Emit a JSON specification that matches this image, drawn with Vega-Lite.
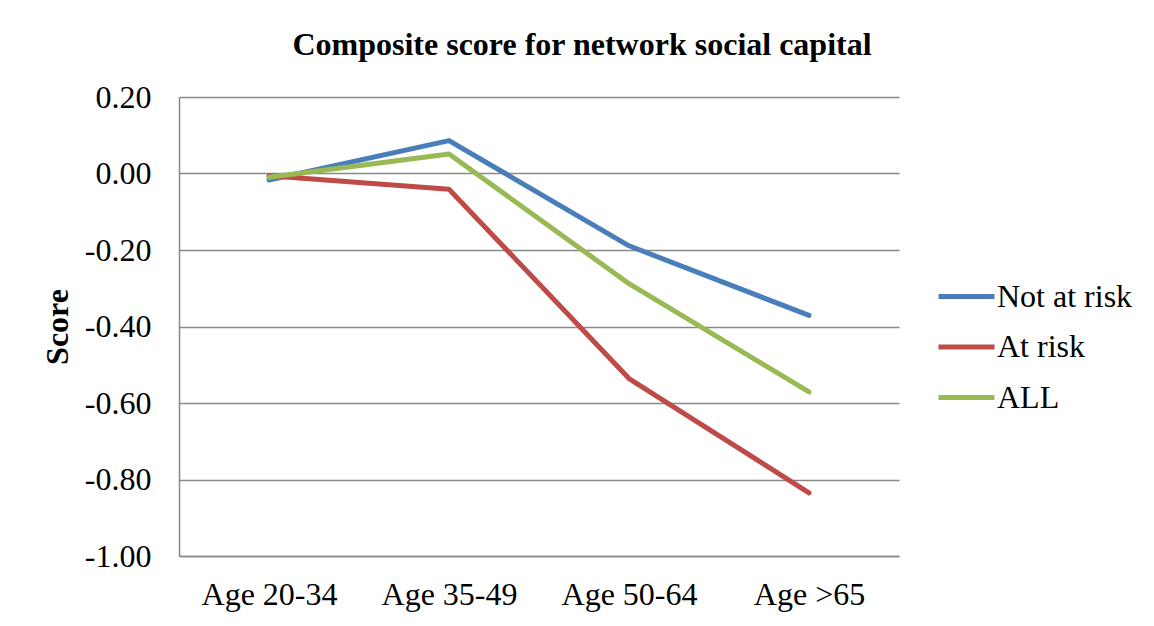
{
  "$schema": "https://vega.github.io/schema/vega-lite/v6.json",
  "width": 720,
  "height": 459,
  "autosize": {"type": "none"},
  "padding": {"left": 179, "top": 97, "right": 255, "bottom": 70},
  "background": "white",
  "title": {
    "text": "Composite score for network social capital",
    "font": "Liberation Serif",
    "fontSize": 32,
    "fontWeight": "bold",
    "color": "black",
    "anchor": "middle",
    "frame": "group",
    "baseline": "alphabetic",
    "dx": 43,
    "offset": -6
  },
  "data": {
    "values": [
      {"age": "Age 20-34", "group": "Not at risk", "score": -0.017},
      {"age": "Age 35-49", "group": "Not at risk", "score": 0.086},
      {"age": "Age 50-64", "group": "Not at risk", "score": -0.189},
      {"age": "Age >65", "group": "Not at risk", "score": -0.371},
      {"age": "Age 20-34", "group": "At risk", "score": -0.006},
      {"age": "Age 35-49", "group": "At risk", "score": -0.041},
      {"age": "Age 50-64", "group": "At risk", "score": -0.536},
      {"age": "Age >65", "group": "At risk", "score": -0.835},
      {"age": "Age 20-34", "group": "ALL", "score": -0.010},
      {"age": "Age 35-49", "group": "ALL", "score": 0.051},
      {"age": "Age 50-64", "group": "ALL", "score": -0.288},
      {"age": "Age >65", "group": "ALL", "score": -0.571}
    ]
  },
  "mark": {"type": "line", "strokeWidth": 5, "strokeCap": "round", "strokeJoin": "round"},
  "encoding": {
    "x": {
      "field": "age",
      "type": "ordinal",
      "sort": null,
      "scale": {"type": "point", "padding": 0.5},
      "axis": {
        "title": null,
        "labelAngle": 0,
        "ticks": false,
        "grid": false,
        "labelPadding": 23,
        "domainColor": "#898989",
        "domainWidth": 1.5
      }
    },
    "y": {
      "field": "score",
      "type": "quantitative",
      "scale": {"domain": [-1, 0.2], "nice": false, "zero": false},
      "axis": {
        "title": "Score",
        "values": [-1, -0.8, -0.6, -0.4, -0.2, 0, 0.2],
        "labelExpr": "replace(format(datum.value, '.2f'), '\u2212', '-')",
        "ticks": false,
        "labelPadding": 28,
        "titleFontWeight": "bold",
        "titlePadding": 10,
        "domainColor": "#898989",
        "domainWidth": 1.5,
        "gridColor": "#898989",
        "gridWidth": 1.5
      }
    },
    "color": {
      "field": "group",
      "type": "nominal",
      "sort": ["Not at risk", "At risk", "ALL"],
      "scale": {"domain": ["Not at risk", "At risk", "ALL"], "range": ["#4A7EBB", "#BE4B48", "#98B954"]},
      "legend": {
        "title": null,
        "orient": "none",
        "legendX": 757,
        "legendY": 169,
        "symbolType": "stroke",
        "symbolSize": 3136,
        "symbolStrokeWidth": 5,
        "rowPadding": 3.5,
        "labelOffset": 0,
        "padding": 0
      }
    }
  },
  "config": {
    "view": {"stroke": null},
    "font": "Liberation Serif",
    "axis": {
      "labelFont": "Liberation Serif",
      "labelFontSize": 32,
      "labelColor": "black",
      "titleFont": "Liberation Serif",
      "titleFontSize": 32,
      "titleColor": "black"
    },
    "legend": {
      "labelFont": "Liberation Serif",
      "labelFontSize": 32,
      "labelColor": "black",
      "labelLimit": 300
    }
  }
}
